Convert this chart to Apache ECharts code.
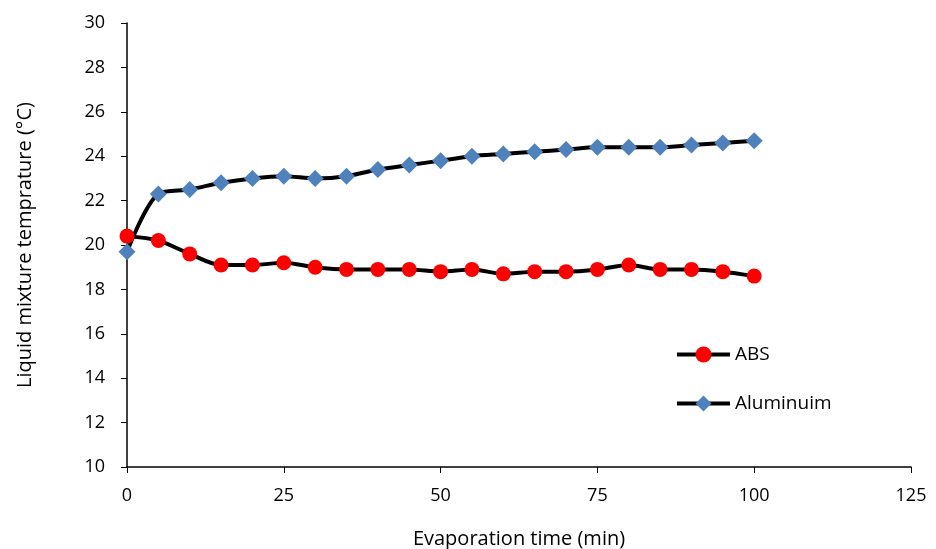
<!DOCTYPE html>
<html>
<head>
<meta charset="utf-8">
<script src="https://cdn.jsdelivr.net/npm/echarts@6/dist/echarts.min.js"></script>
<style>
  html, body { margin: 0; padding: 0; background: #fff; }
  #main { width: 936px; height: 549px; }
</style>
</head>
<body>
<div id="main"></div>
<script>
// evaporation time (min)
var times = [0, 5, 10, 15, 20, 25, 30, 35, 40, 45, 50, 55, 60, 65, 70, 75, 80, 85, 90, 95, 100];
var absTemp = [20.4, 20.2, 19.6, 19.1, 19.1, 19.2, 19.0, 18.9, 18.9, 18.9, 18.8, 18.9, 18.7, 18.8, 18.8, 18.9, 19.1, 18.9, 18.9, 18.8, 18.6];
var aluTemp = [19.7, 22.3, 22.5, 22.8, 23.0, 23.1, 23.0, 23.1, 23.4, 23.6, 23.8, 24.0, 24.1, 24.2, 24.3, 24.4, 24.4, 24.4, 24.5, 24.6, 24.7];

function pairs(ys) {
    var out = [];
    for (var i = 0; i < times.length; i++) {
        out.push([times[i], ys[i]]);
    }
    return out;
}

var font = 'Open Sans';
var chart = echarts.init(document.getElementById('main'));

chart.setOption({
    animation: false,
    textStyle: { fontFamily: font },
    grid: {
        left: 127,
        right: 25,
        top: 23,
        bottom: 82,
        outerBoundsMode: 'none'
    },
    legend: {
        orient: 'vertical',
        left: 670,
        top: 340,
        itemWidth: 53,
        itemHeight: 20,
        itemGap: 30,
        lineStyle: { width: 4 },
        textStyle: { fontSize: 19, color: '#000', fontFamily: font },
        data: ['ABS', 'Aluminuim']
    },
    xAxis: {
        type: 'value',
        min: 0,
        max: 125,
        interval: 25,
        name: 'Evaporation time (min)',
        nameLocation: 'middle',
        nameGap: 62,
        nameTextStyle: { fontSize: 20, color: '#000', fontFamily: font },
        axisLine: { lineStyle: { color: '#000', width: 1.5 } },
        axisTick: { show: true, inside: false, length: 6, lineStyle: { color: '#000' } },
        axisLabel: { fontSize: 18, color: '#000', margin: 20 },
        splitLine: { show: false }
    },
    yAxis: {
        type: 'value',
        min: 10,
        max: 30,
        interval: 2,
        name: 'Liquid mixture temprature (°C)',
        nameLocation: 'middle',
        nameGap: 92,
        nameTextStyle: { fontSize: 20, color: '#000', fontFamily: font },
        axisLine: { show: true, lineStyle: { color: '#000', width: 1.5 } },
        axisTick: { show: true, inside: false, length: 6, lineStyle: { color: '#000' } },
        axisLabel: { fontSize: 18, color: '#000', margin: 22 },
        splitLine: { show: false }
    },
    series: [
        {
            name: 'ABS',
            type: 'line',
            smooth: 0.3,
            data: pairs(absTemp),
            symbol: 'circle',
            symbolSize: 15,
            lineStyle: { color: '#000', width: 4 },
            itemStyle: { color: '#ff0000' }
        },
        {
            name: 'Aluminuim',
            type: 'line',
            smooth: 0.3,
            data: pairs(aluTemp),
            symbol: 'diamond',
            symbolSize: 17,
            lineStyle: { color: '#000', width: 4 },
            itemStyle: { color: '#4f81bd' }
        }
    ]
});
</script>
</body>
</html>
